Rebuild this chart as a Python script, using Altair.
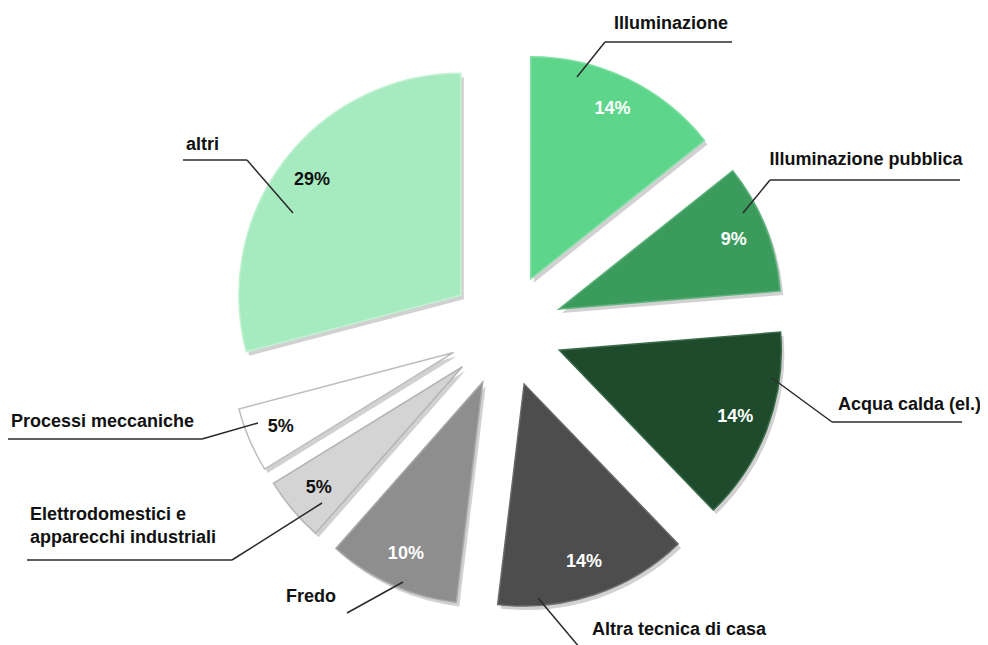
import altair as alt
import pandas as pd

# ---------------- data ----------------
categories = ["Illuminazione", "Illuminazione pubblica", "Acqua calda (el.)",
              "Altra tecnica di casa", "Fredo",
              "Elettrodomestici e apparecchi industriali", "Processi meccaniche", "altri"]
values = [14.3, 9.4, 14.1, 14.1, 9.6, 4.7, 4.7, 29.1]
pct_labels = ["14%", "9%", "14%", "14%", "10%", "5%", "5%", "29%"]

# ---------------- styles / layout ----------------
fills = ["#5dd58a", "#3a9b5c", "#1d4b2c", "#4d4d4d", "#8e8e8e", "#d4d4d4", "#ffffff", "#a6eabf"]
strokes = ["#7fe0a3", "#5cb27a", "#3c6b4a", "#6a6a6a", "#a8a8a8", "#b5b5b5", "#bdbdbd", "#c3f2d3"]
CX, CY = 506, 330       # pie centre (page pixels)
EXPLODE = 57            # explode distance
R = 222                 # slice radius
LABEL_R = 188           # distance of % label from slice apex
FONT = "Liberation Sans"

# callout polylines (annotation layout, page pixels)
callouts = [
    [(577, 77), (605, 42), (732, 42)],
    [(743, 213), (770, 180), (960, 180)],
    [(772, 378), (832, 422), (962, 422)],
    [(538, 598), (580, 648)],
    [(403, 582), (347, 613)],
    [(322, 503), (232, 560), (27, 560)],
    [(258, 423), (202, 439), (8, 439)],
    [(293, 213), (247, 160), (183, 160)],
]
cat_texts = [
    ("Illuminazione", 671, 24, "center"),
    ("Illuminazione pubblica", 866, 160, "center"),
    ("Acqua calda (el.)", 838, 405, "left"),
    ("Altra tecnica di casa", 592, 630, "left"),
    ("Fredo", 336, 597, "right"),
    ("Elettrodomestici e", 30, 515, "left"),
    ("apparecchi industriali", 30, 538, "left"),
    ("Processi meccaniche", 11, 422, "left"),
    ("altri", 186, 145, "left"),
]

df = pd.DataFrame({"category": categories, "value": values,
                   "label": pct_labels, "order": list(range(len(values)))})

seg_rows = []
for pts in callouts:
    for (x1, y1), (x2, y2) in zip(pts[:-1], pts[1:]):
        seg_rows.append({"x": x1, "y": y1, "x2": x2, "y2": y2})
segs = pd.DataFrame(seg_rows)
texts = pd.DataFrame([{"t": t, "x": x, "y": y, "align": a} for t, x, y, a in cat_texts])

xs = alt.Scale(domain=[8, 980], nice=False, zero=False)
ys = alt.Scale(domain=[8, 637], nice=False, zero=False, reverse=True)

base = (
    alt.Chart(df)
    .transform_joinaggregate(total="sum(value)")
    .transform_window(cum="sum(value)", sort=[alt.SortField("order")], frame=[None, 0])
    .transform_calculate(
        t1="datum.cum / datum.total * 2 * PI",
        t0="(datum.cum - datum.value) / datum.total * 2 * PI",
    )
    .transform_calculate(mid="(datum.t0 + datum.t1) / 2")
    .transform_calculate(
        cx=f"{CX} + {EXPLODE} * sin(datum.mid)",
        cy=f"{CY} - {EXPLODE} * cos(datum.mid)",
    )
    .transform_calculate(
        sx="datum.cx + 3",
        sy="datum.cy + 4",
        lx=f"datum.cx + {LABEL_R} * sin(datum.mid)",
        ly=f"datum.cy - {LABEL_R} * cos(datum.mid)",
    )
)

shadow = base.mark_arc(radius=R, color="#000000", opacity=0.18).encode(
    x=alt.X("sx:Q", scale=xs, axis=None),
    y=alt.Y("sy:Q", scale=ys, axis=None),
    theta=alt.Theta("t0:Q", scale=None, stack=False),
    theta2=alt.Theta2("t1:Q"),
)

arcs = base.mark_arc(radius=R, strokeWidth=1.5).encode(
    x=alt.X("cx:Q", scale=xs, axis=None),
    y=alt.Y("cy:Q", scale=ys, axis=None),
    theta=alt.Theta("t0:Q", scale=None, stack=False),
    theta2=alt.Theta2("t1:Q"),
    color=alt.Color("category:N", scale=alt.Scale(domain=categories, range=fills), legend=None),
    stroke=alt.Stroke("category:N", scale=alt.Scale(domain=categories, range=strokes), legend=None),
)

pct = base.mark_text(font=FONT, fontSize=18, fontWeight="bold", baseline="middle").encode(
    x=alt.X("lx:Q", scale=xs, axis=None),
    y=alt.Y("ly:Q", scale=ys, axis=None),
    text="label:N",
    color=alt.condition("datum.order < 5", alt.value("#ffffff"), alt.value("#111111")),
)

rules = alt.Chart(segs).mark_rule(color="#2a2a2a", strokeWidth=1.5).encode(
    x=alt.X("x:Q", scale=xs, axis=None),
    y=alt.Y("y:Q", scale=ys, axis=None),
    x2="x2:Q",
    y2="y2:Q",
)

text_layers = []
for a in ["left", "center", "right"]:
    text_layers.append(
        alt.Chart(texts).transform_filter(f"datum.align == '{a}'")
        .mark_text(font=FONT, fontSize=18, fontWeight="bold", align=a, baseline="middle", color="#111111")
        .encode(
            x=alt.X("x:Q", scale=xs, axis=None),
            y=alt.Y("y:Q", scale=ys, axis=None),
            text="t:N",
        )
    )

chart = (
    alt.layer(shadow, arcs, pct, rules, *text_layers)
    .properties(width=972, height=629, autosize="none",
                padding={"left": 0, "top": 0, "right": 0, "bottom": 8})
    .configure_view(strokeWidth=0)
)

chart.save("out.html", embed_options={"renderer": "svg", "actions": False})
